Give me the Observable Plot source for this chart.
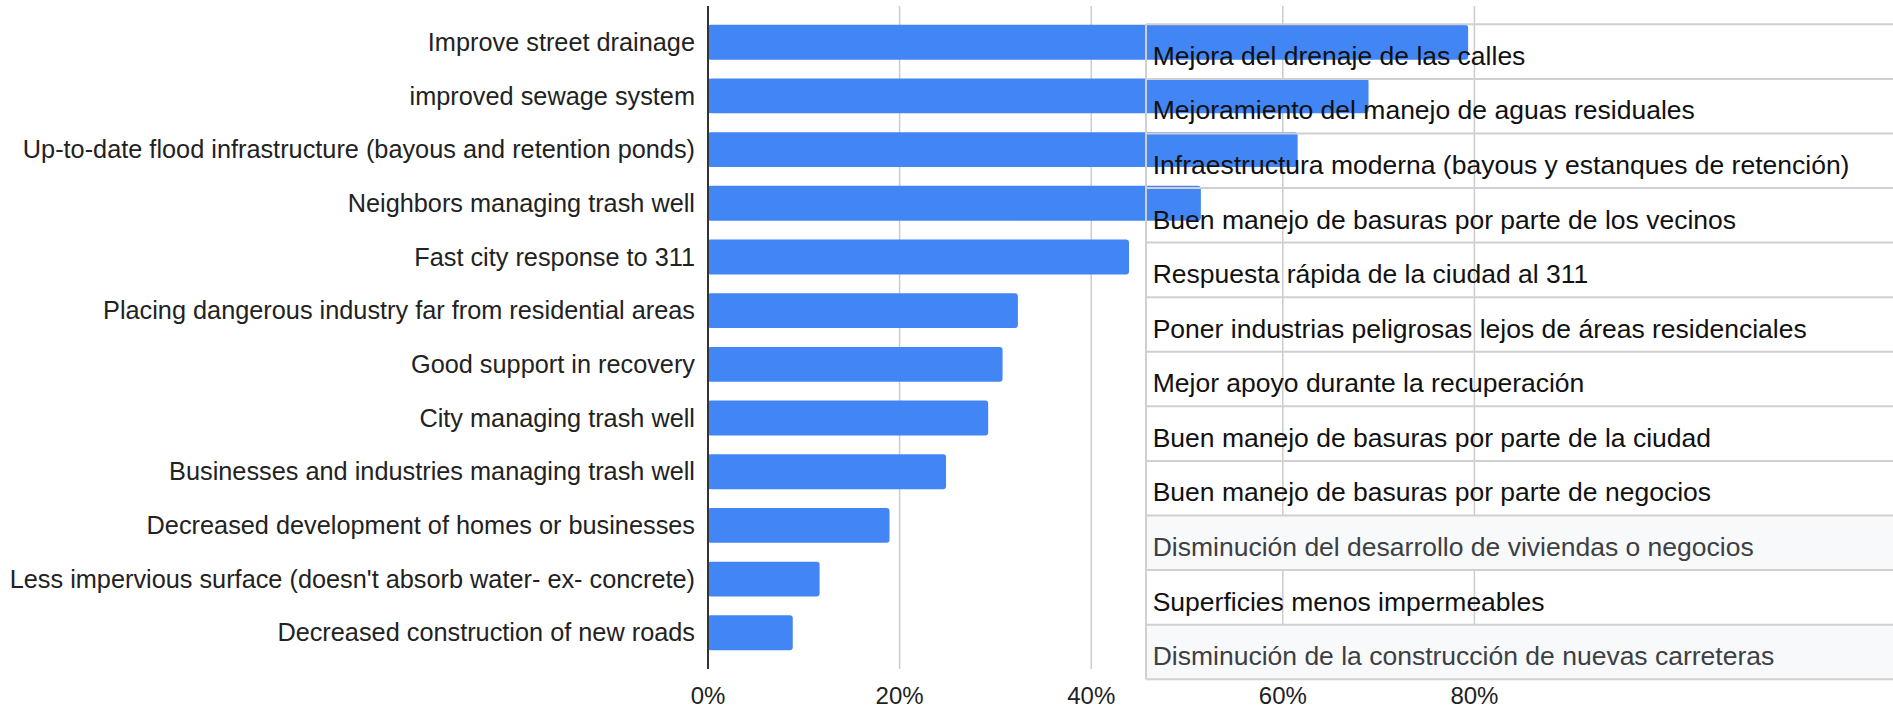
<!DOCTYPE html>
<html>
<head>
<meta charset="utf-8">
<script src="https://cdn.jsdelivr.net/npm/d3@7"></script>
<script src="https://cdn.jsdelivr.net/npm/@observablehq/plot@0.6"></script>
<style>
  html, body { margin: 0; padding: 0; background: #fff; }
  #wrap { position: relative; width: 1893px; height: 708px; overflow: hidden; font-family: "Liberation Sans", Arial, sans-serif; }
  #wrap svg { display: block; }
  #table { position: absolute; left: 0; top: 0; }
</style>
</head>
<body>
<div id="wrap"></div>
<script>
// English categories (y axis), top to bottom
const categories = [
  "Improve street drainage",
  "improved sewage system",
  "Up-to-date flood infrastructure (bayous and retention ponds)",
  "Neighbors managing trash well",
  "Fast city response to 311",
  "Placing dangerous industry far from residential areas",
  "Good support in recovery",
  "City managing trash well",
  "Businesses and industries managing trash well",
  "Decreased development of homes or businesses",
  "Less impervious surface (doesn't absorb water- ex- concrete)",
  "Decreased construction of new roads"
];
// Share of respondents (%)
const values = [79.4, 69.0, 61.6, 51.5, 44.0, 32.4, 30.8, 29.3, 24.9, 19.0, 11.7, 8.9];
// x tick values
const xTicks = [0, 20, 40, 60, 80];
// Spanish translations in the overlaid table
const spanishLabels = [
  "Mejora del drenaje de las calles",
  "Mejoramiento del manejo de aguas residuales",
  "Infraestructura moderna (bayous y estanques de retención)",
  "Buen manejo de basuras por parte de los vecinos",
  "Respuesta rápida de la ciudad al 311",
  "Poner industrias peligrosas lejos de áreas residenciales",
  "Mejor apoyo durante la recuperación",
  "Buen manejo de basuras por parte de la ciudad",
  "Buen manejo de basuras por parte de negocios",
  "Disminución del desarrollo de viviendas o negocios",
  "Superficies menos impermeables",
  "Disminución de la construcción de nuevas carreteras"
];
// rows of the table shaded grey
const shadedRows = [9, 11];

const data = categories.map((c, i) => ({label: c, value: values[i]}));

const W = 1893, H = 708;
const chart = Plot.plot({
  width: W,
  height: H,
  marginLeft: 707.5,
  marginRight: 100,
  marginTop: 6,
  marginBottom: 39,
  style: {fontFamily: '"Liberation Sans", Arial, sans-serif', color: "#222", background: "transparent"},
  x: {domain: [0, 100], range: [707.5, 707.5 + 958]},
  y: {domain: categories, padding: 0.35, round: false},
  marks: [
    Plot.ruleX(xTicks.slice(1), {stroke: "#cccccc", strokeWidth: 1.5}),
    Plot.barX(data, {x: "value", y: "label", fill: "#4285f4", rx: 3}),
    Plot.ruleX([0], {stroke: "#333", strokeWidth: 2}),
    Plot.axisX(xTicks, {tickSize: 0, tickPadding: 17, fontSize: 24, tickFormat: d => d + "%", label: null}),
    Plot.axisY({tickSize: 0, tickPadding: 13, fontSize: 25.3, label: null})
  ]
});
document.getElementById("wrap").appendChild(chart);

// Overlaid translation table
const tLeft = 1146, tTop = 24.3, rowH = 54.58;
const svg = d3.select("#wrap").append("svg")
  .attr("id", "table")
  .attr("width", W).attr("height", H);
const rows = svg.selectAll("g.row").data(spanishLabels).join("g")
  .attr("class", "row")
  .attr("transform", (d, i) => `translate(0,${tTop + i * rowH})`);
rows.filter((d, i) => shadedRows.includes(i)).append("rect")
  .attr("x", tLeft).attr("y", 0).attr("width", W - tLeft).attr("height", rowH)
  .attr("fill", "#f8f9fa");
// horizontal lines
svg.selectAll("line.h").data(d3.range(spanishLabels.length + 1)).join("line")
  .attr("x1", tLeft).attr("x2", W)
  .attr("y1", i => tTop + i * rowH).attr("y2", i => tTop + i * rowH)
  .attr("stroke", "#d0d0d0").attr("stroke-width", 2);
// left border
svg.append("line")
  .attr("x1", tLeft).attr("x2", tLeft)
  .attr("y1", tTop).attr("y2", tTop + spanishLabels.length * rowH)
  .attr("stroke", "#d0d0d0").attr("stroke-width", 2);
rows.append("text")
  .attr("x", 1152.7).attr("y", 40.5)
  .attr("font-family", '"Liberation Sans", Arial, sans-serif')
  .attr("font-size", 26.5)
  .attr("fill", (d, i) => shadedRows.includes(i) ? "#3c4043" : "#111")
  .text(d => d);
</script>
</body>
</html>
